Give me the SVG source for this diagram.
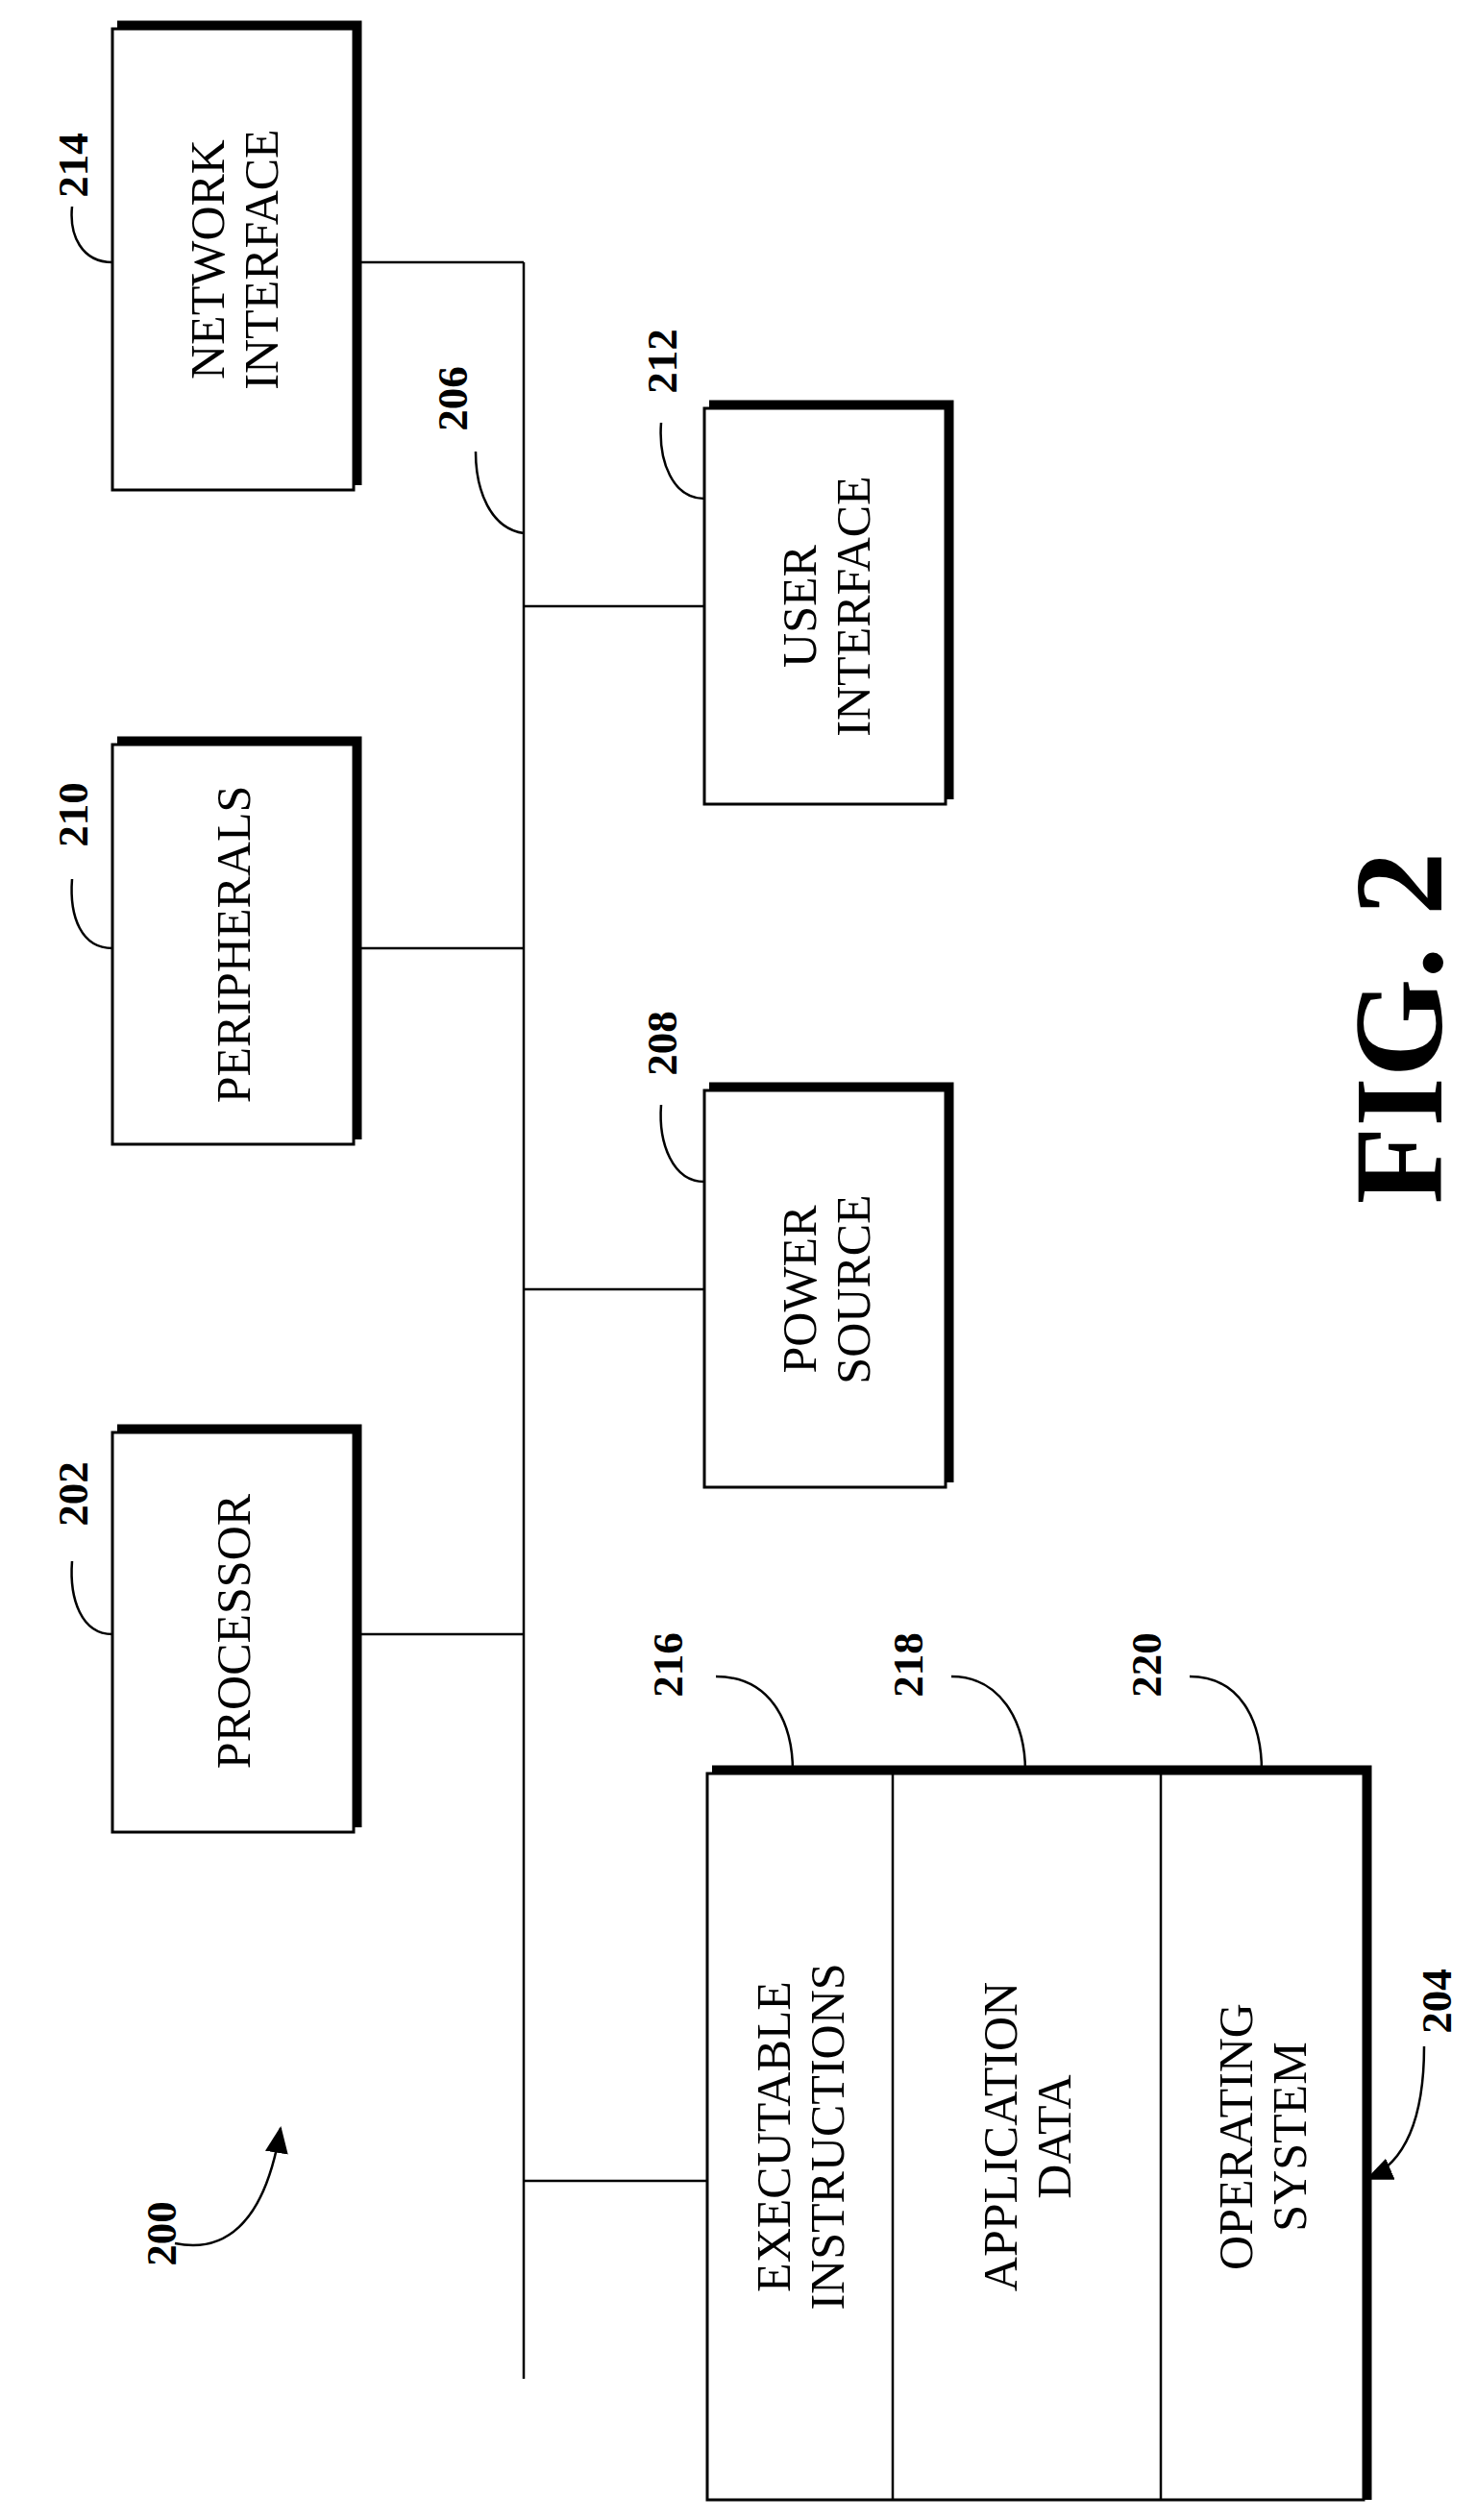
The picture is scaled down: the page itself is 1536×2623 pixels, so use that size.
<svg xmlns="http://www.w3.org/2000/svg" width="1536" height="2623" viewBox="0 0 1536 2623">
<style>
.box{fill:#fff;stroke:#000;stroke-width:3}
.sh{fill:none;stroke:#000;stroke-width:9}
.ln{fill:none;stroke:#000;stroke-width:2.5}
.t{font-family:"Liberation Serif",serif;font-size:50px;text-anchor:middle}
.n{font-family:"Liberation Serif",serif;font-size:45px;font-weight:bold;text-anchor:middle}
</style>
<defs>
<marker id="ah2" markerWidth="28" markerHeight="28" refX="26" refY="14" orient="auto" markerUnits="userSpaceOnUse" viewBox="0 0 28 28"><path d="M0,2L28,14L0,26z"/></marker></defs>
<g id="connectors">
<path class="ln" d="M545,273V2476"/>
<path class="ln" d="M368,273H545"/>
<path class="ln" d="M545,631H733"/>
<path class="ln" d="M368,987H545"/>
<path class="ln" d="M545,1342H733"/>
<path class="ln" d="M368,1701H545"/>
<path class="ln" d="M545,2270H736"/>
</g>
<g id="n214"><rect class="box" x="117" y="30" width="251" height="480"/><path class="sh" d="M122,26H372V505"/>
<text class="t" transform="rotate(-90 243 270)" x="243" y="270"><tspan x="243" dy="-10">NETWORK</tspan><tspan x="243" dy="56">INTERFACE</tspan></text>
<path class="ln" d="M117,273C85,273 72,245 75,215"/><text class="n" transform="rotate(-90 91 172)" x="91" y="172">214</text></g>
<g id="n206"><path class="ln" d="M545,555C510,550 495,510 495,470"/><text class="n" transform="rotate(-90 486 415)" x="486" y="415">206</text></g>
<g id="n212"><rect class="box" x="733" y="425" width="251" height="412"/><path class="sh" d="M738,421H988V832"/>
<text class="t" transform="rotate(-90 859 631)" x="859" y="631"><tspan x="859" dy="-10">USER</tspan><tspan x="859" dy="56">INTERFACE</tspan></text>
<path class="ln" d="M733,519C700,519 685,480 688,440"/><text class="n" transform="rotate(-90 704 376)" x="704" y="376">212</text></g>
<g id="n210"><rect class="box" x="117" y="775" width="251" height="416"/><path class="sh" d="M122,771H372V1186"/>
<text class="t" transform="rotate(-90 243 983)" x="243" y="983" dy="17">PERIPHERALS</text>
<path class="ln" d="M117,987C85,987 72,955 75,915"/><text class="n" transform="rotate(-90 91 848)" x="91" y="848">210</text></g>
<g id="n208"><rect class="box" x="733" y="1135" width="251" height="413"/><path class="sh" d="M738,1131H988V1543"/>
<text class="t" transform="rotate(-90 859 1342)" x="859" y="1342"><tspan x="859" dy="-10">POWER</tspan><tspan x="859" dy="56">SOURCE</tspan></text>
<path class="ln" d="M733,1230C700,1230 685,1190 688,1150"/><text class="n" transform="rotate(-90 704 1086)" x="704" y="1086">208</text></g>
<g id="n202"><rect class="box" x="117" y="1491" width="251" height="416"/><path class="sh" d="M122,1487H372V1902"/>
<text class="t" transform="rotate(-90 243 1698)" x="243" y="1698" dy="17">PROCESSOR</text>
<path class="ln" d="M117,1701C85,1701 72,1665 75,1625"/><text class="n" transform="rotate(-90 91 1555)" x="91" y="1555">202</text></g>
<g id="n204"><rect class="box" x="736" y="1846" width="683" height="756"/><path class="sh" d="M741,1842H1423V2602"/>
<path class="ln" d="M929,1846V2602M1208,1846V2602"/>
<text class="t" transform="rotate(-90 832 2224)" x="832" y="2224"><tspan x="832" dy="-10">EXECUTABLE</tspan><tspan x="832" dy="56">INSTRUCTIONS</tspan></text>
<text class="t" transform="rotate(-90 1068 2224)" x="1068" y="2224"><tspan x="1068" dy="-10">APPLICATION</tspan><tspan x="1068" dy="56">DATA</tspan></text>
<text class="t" transform="rotate(-90 1313 2224)" x="1313" y="2224"><tspan x="1313" dy="-10">OPERATING</tspan><tspan x="1313" dy="56">SYSTEM</tspan></text>
<path class="ln" d="M1482,2130C1482,2200 1465,2250 1423,2268" marker-end="url(#ah2)"/><text class="n" transform="rotate(-90 1510 2083)" x="1510" y="2083">204</text></g>
<g id="n216"><path class="ln" d="M745,1745C800,1745 825,1790 825,1844"/><text class="n" transform="rotate(-90 710 1733)" x="710" y="1733">216</text></g>
<g id="n218"><path class="ln" d="M990,1745C1040,1745 1067,1790 1067,1844"/><text class="n" transform="rotate(-90 960 1733)" x="960" y="1733">218</text></g>
<g id="n220"><path class="ln" d="M1238,1745C1290,1745 1313,1790 1313,1844"/><text class="n" transform="rotate(-90 1208 1733)" x="1208" y="1733">220</text></g>
<g id="n200"><path class="ln" d="M182,2335C230,2345 275,2320 292,2215" marker-end="url(#ah2)"/><text class="n" transform="rotate(-90 183 2325)" x="183" y="2325">200</text></g>
<text font-family="Liberation Serif,serif" font-size="132" font-weight="bold" text-anchor="middle" transform="rotate(-90 1500 1070)" x="1500" y="1070">FIG. 2</text>
</svg>
